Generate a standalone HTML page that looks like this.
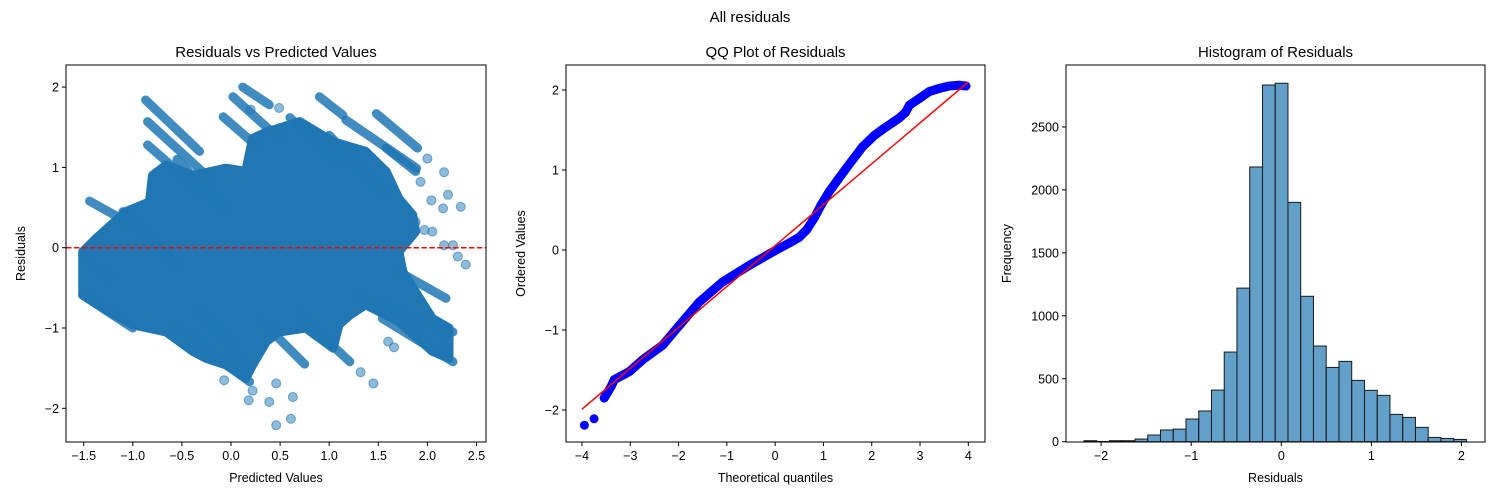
<!DOCTYPE html>
<html><head><meta charset="utf-8"><style>
html,body{margin:0;padding:0;background:#fff;}
svg{display:block;font-family:"Liberation Sans","DejaVu Sans",sans-serif;}
</style></head><body>
<svg id="fig" width="1500" height="500" viewBox="0 0 1500 500" xmlns="http://www.w3.org/2000/svg">
<rect width="1500" height="500" fill="#fff"/>
<text x="750" y="22" font-size="15" text-anchor="middle">All residuals</text>
</svg>
<script>
// ---------- Scatter data (data coords: predicted, residual) ----------
const bodyX=[-1.51,-1.37,-1.07,-0.83,-0.80,-0.66,-0.39,-0.05,0.15,0.22,0.36,0.70,1.04,1.37,1.58,1.71,1.85,1.88,1.71,1.75,1.88,2.05,2.22,2.22,2.05,1.71,1.37,1.21,1.10,1.04,0.76,0.49,0.36,0.22,0.15,-0.05,-0.25,-0.39,-0.66,-1.00,-1.24,-1.51,-1.51];
const bodyY=[-0.05,0.12,0.45,0.57,0.90,1.03,0.90,0.99,0.95,1.36,1.44,1.57,1.32,1.20,0.95,0.61,0.41,0.20,-0.05,-0.30,-0.55,-0.88,-1.00,-1.38,-1.29,-0.92,-0.71,-0.84,-0.96,-1.25,-1.00,-1.05,-1.17,-1.46,-1.63,-1.46,-1.38,-1.29,-1.05,-0.96,-0.80,-0.59,-0.30];
const stripeX0=[-0.87,-0.85,-0.85,-1.44,0.12,0.02,-0.08,0.90,1.48,1.17,1.58,-1.51,-1.51,-0.56,0.70,1.54,1.27,1.71,-1.10,-0.55,0.60,1.00,-0.30,0.30];
const stripeY0=[1.84,1.57,1.28,0.58,2.00,1.88,1.63,1.88,1.67,1.59,1.24,-0.59,-0.09,-0.96,-0.84,-0.88,-0.59,-0.30,0.45,1.10,1.62,1.40,-0.80,-0.90];
const stripeX1=[-0.32,-0.25,-0.22,-1.00,0.39,0.49,0.25,1.14,1.90,1.89,1.88,-1.00,-1.24,0.19,1.21,2.26,2.26,2.19,-0.55,-0.05,1.05,1.55,0.20,0.75];
const stripeY1=[1.20,0.90,0.61,0.28,1.78,1.36,1.28,1.65,1.24,0.99,0.95,-1.00,-0.38,-1.67,-1.42,-1.42,-1.05,-0.63,-0.20,0.45,1.10,0.70,-1.50,-1.45];
const outX=[2.00,2.17,2.21,2.34,2.05,1.97,2.17,2.39,2.31,2.04,2.16,1.88,0.46,0.61,0.18,0.39,0.63,0.46,0.22,-0.07,1.32,1.45,0.49,0.20,1.60,1.66,2.26,1.93];
const outY=[1.11,0.94,0.66,0.51,0.20,0.22,0.03,-0.21,-0.11,0.59,0.49,0.32,-2.21,-2.13,-1.90,-1.92,-1.86,-1.69,-1.78,-1.65,-1.55,-1.69,1.74,1.72,-1.17,-1.24,0.03,0.82];
const ax1XTicks=[-1.5,-1.0,-0.5,0.0,0.5,1.0,1.5,2.0,2.5];
const ax1YTicks=[-2,-1,0,1,2];
// ---------- QQ data ----------
const qqTheo=[-3.95,-3.75,-3.54,-3.40,-3.33,-3.02,-2.74,-2.33,-1.98,-1.57,-1.09,-0.53,0.02,0.30,0.50,0.65,0.81,0.95,1.12,1.30,1.47,1.81,2.05,2.23,2.45,2.57,2.70,2.78,3.00,3.19,3.40,3.61,3.80,3.95];
const qqOrd=[-2.19,-2.11,-1.85,-1.71,-1.62,-1.52,-1.37,-1.19,-0.94,-0.65,-0.40,-0.19,0.00,0.09,0.16,0.25,0.40,0.56,0.73,0.88,1.02,1.29,1.43,1.51,1.60,1.65,1.72,1.81,1.90,1.98,2.02,2.05,2.06,2.05];
const qqLineX=[-4,4];
const qqLineY=[-1.99,2.10];
const ax2XTicks=[-4,-3,-2,-1,0,1,2,3,4];
const ax2YTicks=[-2,-1,0,1,2];
// ---------- Histogram data ----------
const histStart=-2.19, histWidth=0.1415;
const histCounts=[8,2,8,8,21,53,93,100,180,244,410,712,1220,2182,2833,2847,1901,1155,760,590,638,487,408,368,217,193,114,34,26,18];
const ax3XTicks=[-2,-1,0,1,2];
const ax3YTicks=[0,500,1000,1500,2000,2500];

const NS="http://www.w3.org/2000/svg";
const fig=document.getElementById('fig');
function el(tag,attrs,parent,text){const e=document.createElementNS(NS,tag);for(const k in attrs)e.setAttribute(k,attrs[k]);if(text!==undefined)e.textContent=text;(parent||fig).appendChild(e);return e;}
function fmt(v,d){const s=v.toFixed(d);return v<0?'\u2212'+s.slice(1):s;}

function axesFrame(name,x0,y0,x1,y1,sx,sy,xt,yt,xd,yd,title,xl,yl,ylx){
  const g=el('g',{});
  
  
  const t=el('text',{x:(x0+x1)/2,y:57,'font-size':15,'text-anchor':'middle'},g,title);
  
  
  xt.forEach(v=>{const x=sx(v);el('line',{x1:x,x2:x,y1:y1,y2:y1+4,stroke:'#000','stroke-width':1},g);
    const l=el('text',{x:x,y:y1+18,'font-size':12.5,'text-anchor':'middle'},g,fmt(v,xd));
    
    });
  yt.forEach(v=>{const y=sy(v);el('line',{x1:x0-4,x2:x0,y1:y,y2:y,stroke:'#000','stroke-width':1},g);
    const l=el('text',{x:x0-7,y:y+4.5,'font-size':12.5,'text-anchor':'end'},g,fmt(v,yd));
    
    });
  const a=el('text',{x:(x0+x1)/2,y:482,'font-size':12.5,'text-anchor':'middle'},g,xl);
  
  
  const b=el('text',{x:ylx,y:(y0+y1)/2,'font-size':12.5,'text-anchor':'middle',transform:`rotate(-90 ${ylx} ${(y0+y1)/2})`},g,yl);
  
  
}
function border(x0,y0,x1,y1){el('rect',{x:x0,y:y0,width:x1-x0,height:y1-y0,fill:'none',stroke:'#000','stroke-width':1});}

// ---------- Panel 1 ----------
{
  const x0=66,y0=65,x1=486,y1=442;
  const sx=v=>231+v*98.2, sy=v=>247.7-v*80.3;
  const g=el('g',{});
  
  
  const pts=bodyX.map((x,i)=>sx(x)+','+sy(bodyY[i])).join(' ');
  el('polygon',{points:pts,fill:'#2077b4',stroke:'#2077b4','stroke-width':9,'stroke-linejoin':'round'},g);
  stripeX0.forEach((x,i)=>{const s=el('line',{x1:sx(x),y1:sy(stripeY0[i]),x2:sx(stripeX1[i]),y2:sy(stripeY1[i]),stroke:'rgba(31,119,180,0.85)','stroke-width':9,'stroke-linecap':'round'},g);
    
    });
  outX.forEach((x,i)=>{const c=el('circle',{cx:sx(x),cy:sy(outY[i]),r:4.5,fill:'rgba(31,119,180,0.5)',stroke:'rgba(31,119,180,0.6)','stroke-width':1},g);
    
    });
  const z=el('line',{x1:x0,x2:x1,y1:sy(0),y2:sy(0),stroke:'#ff0000','stroke-width':1.5,'stroke-dasharray':'5.5,2.4'});
  
  
  border(x0,y0,x1,y1);
  axesFrame('residuals-vs-predicted',x0,y0,x1,y1,sx,sy,ax1XTicks,ax1YTicks,1,0,'Residuals vs Predicted Values','Predicted Values','Residuals',25);
}
// ---------- Panel 2 ----------
{
  const x0=566,y0=65,x1=985,y1=442;
  const sx=v=>775.15+v*48.29, sy=v=>250-v*80;
  const g=el('g',{});
  
  
  const pts=qqTheo.slice(2).map((x,i)=>sx(x)+','+sy(qqOrd[i+2])).join(' ');
  el('polyline',{points:pts,fill:'none',stroke:'#0000ff','stroke-width':9,'stroke-linecap':'round','stroke-linejoin':'round'},g);
  qqTheo.forEach((x,i)=>{const c=el('circle',{cx:sx(x),cy:sy(qqOrd[i]),r:4.5,fill:'#0000ff'},g);
    
    });
  const l=el('line',{x1:sx(qqLineX[0]),y1:sy(qqLineY[0]),x2:sx(qqLineX[1]),y2:sy(qqLineY[1]),stroke:'#ff0000','stroke-width':1.5});
  
  
  border(x0,y0,x1,y1);
  axesFrame('qq-plot',x0,y0,x1,y1,sx,sy,ax2XTicks,ax2YTicks,0,0,'QQ Plot of Residuals','Theoretical quantiles','Ordered Values',525);
}
// ---------- Panel 3 ----------
{
  const x0=1066,y0=65,x1=1485,y1=442;
  const sx=v=>1281.3+v*90.1, sy=v=>441.7-v*0.1259;
  const g=el('g',{});
  
  
  histCounts.forEach((c,i)=>{const a=sx(histStart+i*histWidth), b=sx(histStart+(i+1)*histWidth);
    const r=el('rect',{x:a,y:sy(c),width:b-a,height:sy(0)-sy(c),fill:'rgba(31,119,180,0.7)',stroke:'#1a1a1a','stroke-width':1},g);
    
    });
  border(x0,y0,x1,y1);
  axesFrame('histogram',x0,y0,x1,y1,sx,sy,ax3XTicks,ax3YTicks,0,0,'Histogram of Residuals','Residuals','Frequency',1011);
}
</script>
</body></html>
